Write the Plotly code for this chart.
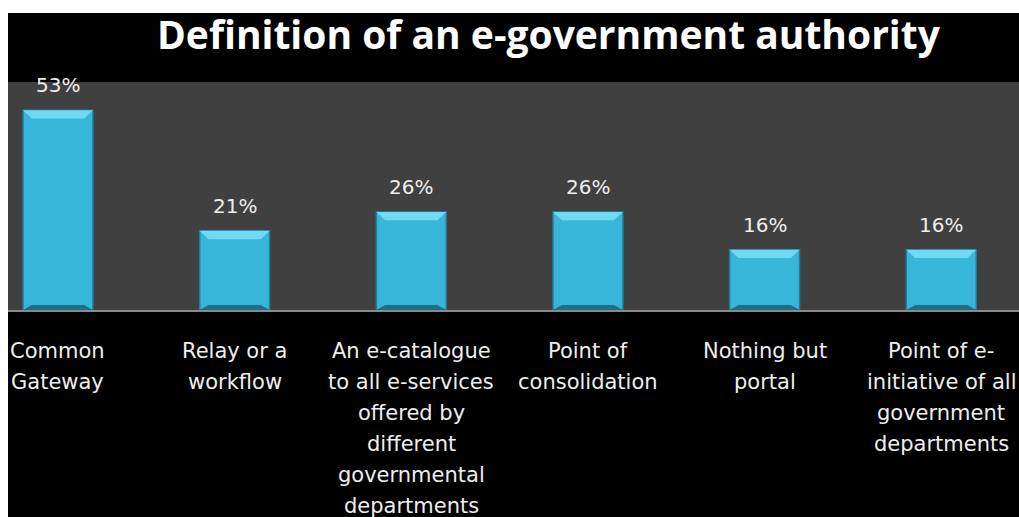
import plotly.graph_objects as go

# Survey results: how respondents define an e-government authority
categories = [
    "Common<br>Gateway",
    "Relay or a<br>workflow",
    "An e-catalogue<br>to all e-services<br>offered by<br>different<br>governmental<br>departments",
    "Point of<br>consolidation",
    "Nothing but<br>portal",
    "Point of e-<br>initiative of all<br>government<br>departments",
]
values = [53, 21, 26, 26, 16, 16]
value_labels = ["53%", "21%", "26%", "26%", "16%", "16%"]
title_text = "Definition of an e-government authority"

W, H = 1019, 517
ML, MR, MT, MB = 8, 0, 82, 207
plot_h = H - MT - MB
plot_w = W - ML - MR
x_range = [-0.283, 5.44]
y_range = [0, 60.5]
bar_w = 0.396

LABEL_FONT = "DejaVu Sans, sans-serif"
TITLE_FONT = "Open Sans, sans-serif"
TEXT_COLOR = "#eeeeee"

fig = go.Figure()
xs = list(range(len(categories)))
fig.add_trace(go.Bar(
    x=xs,
    y=values,
    width=bar_w,
    marker=dict(color="#38b6da", line=dict(color="#1f7d99", width=1.5)),
    hoverinfo="skip",
))

shapes = []
# bevelled highlight along the top of each bar, darker shading at the foot
dx = 0.05
dy = 2.2
for x, v in zip(xs, values):
    l, r = x - bar_w / 2, x + bar_w / 2
    shapes.append(dict(
        type="path", xref="x", yref="y",
        path=f"M {l},{v} L {r},{v} L {r - dx},{v - dy} L {l + dx},{v - dy} Z",
        fillcolor="#6fdaf4", line=dict(width=0), layer="above",
    ))
    shapes.append(dict(
        type="path", xref="x", yref="y",
        path=f"M {l},0 L {r},0 L {r - dx},{dy * 0.6} L {l + dx},{dy * 0.6} Z",
        fillcolor="#1e6f88", line=dict(width=0), layer="above",
    ))

# white page border at the top and left
top_px = 13
left_px = 8
shapes.append(dict(type="rect", xref="paper", yref="paper",
                   x0=-left_px / plot_w - 0.01, x1=1.01,
                   y0=1 + (MT - top_px) / plot_h, y1=1 + MT / plot_h + 0.05,
                   fillcolor="white", line=dict(width=0), layer="above"))
shapes.append(dict(type="rect", xref="paper", yref="paper",
                   x0=-left_px / plot_w - 0.01, x1=0,
                   y0=-MB / plot_h - 0.05, y1=1 + MT / plot_h + 0.05,
                   fillcolor="white", line=dict(width=0), layer="above"))

annotations = []
# percentage labels above the bars
for x, v, lab in zip(xs, values, value_labels):
    annotations.append(dict(
        x=x, xref="x", y=v, yref="y", yshift=25,
        text=lab, showarrow=False, xanchor="center", yanchor="middle",
        font=dict(family=LABEL_FONT, size=20, color=TEXT_COLOR),
    ))

# category labels, one line at a time beneath the axis
first_line_px = 351
line_px = 31
for x, cat in zip(xs, categories):
    for i, line in enumerate(cat.split("<br>")):
        py = first_line_px + i * line_px
        annotations.append(dict(
            x=x, xref="x", y=(MT + plot_h - py) / plot_h, yref="paper",
            text=line, showarrow=False, xanchor="center", yanchor="middle",
            font=dict(family=LABEL_FONT, size=21, color=TEXT_COLOR),
        ))

annotations.append(dict(
    x=(549 - ML) / plot_w, xref="paper", y=(MT + plot_h - 33) / plot_h, yref="paper",
    text=f"<b>{title_text}</b>", showarrow=False, xanchor="center", yanchor="middle",
    font=dict(family=TITLE_FONT, size=39, color="white"),
))

fig.update_layout(
    width=W, height=H,
    margin=dict(l=ML, r=MR, t=MT, b=MB, pad=0),
    paper_bgcolor="black",
    plot_bgcolor="#404040",
    showlegend=False,
    shapes=shapes,
    annotations=annotations,
    xaxis=dict(range=x_range, showticklabels=False, showgrid=False, zeroline=False,
               showline=True, linecolor="#8a8a8a", linewidth=1.5, fixedrange=True),
    yaxis=dict(range=y_range, showticklabels=False, showgrid=False, zeroline=False,
               showline=False, fixedrange=True),
)

fig.write_html("out.html", config={"displayModeBar": False})
